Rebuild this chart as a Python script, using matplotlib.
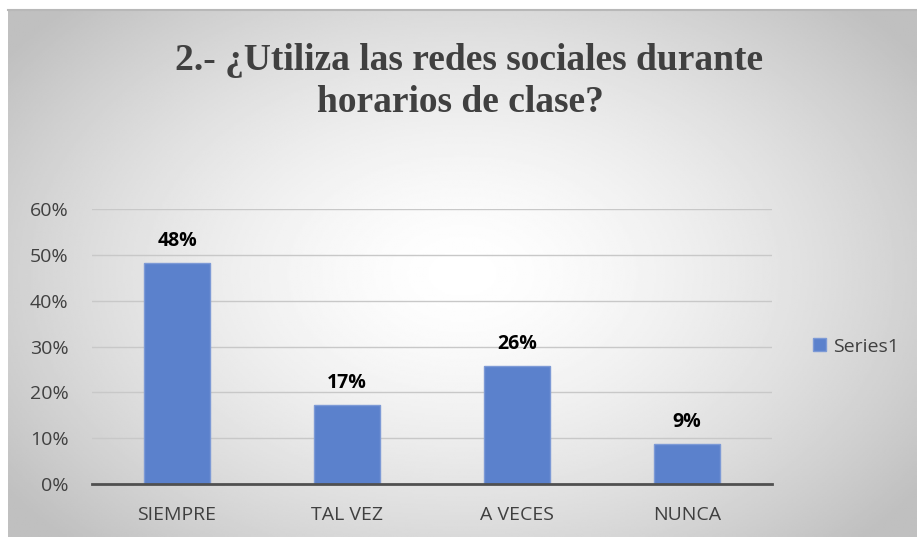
import numpy as np
import matplotlib.pyplot as plt

categories = ['SIEMPRE', 'TAL VEZ', 'A VECES', 'NUNCA']
values = [0.482, 0.172, 0.258, 0.087]
labels = ['48%', '17%', '26%', '9%']
ticks = [0, 0.1, 0.2, 0.3, 0.4, 0.5, 0.6]

fig = plt.figure(figsize=(9.17, 5.37), dpi=100)
fig.patch.set_facecolor('white')

# radial gradient background of the chart area
bg = fig.add_axes([8 / 917, 0, 1 - 8 / 917, 1 - 10 / 537])
yy, xx = np.mgrid[0:1:300j, 0:1:500j]
r = np.sqrt(((xx - 0.5) / 0.62) ** 2 + ((yy - 0.5) / 0.72) ** 2)
shade = 1 - 0.25 * np.clip(r, 0, 1) ** 1.5
bg.imshow(shade, cmap='gray', vmin=0, vmax=1, aspect='auto', extent=[0, 1, 0, 1])
bg.set_axis_off()
fig.add_artist(plt.Line2D([8 / 917, 1], [1 - 10 / 537, 1 - 10 / 537], color='#b8b8b8', linewidth=1.5))

ax = fig.add_axes([92 / 917, 1 - 484 / 537, (772 - 92) / 917, (484 - 209) / 537])
ax.set_facecolor('none')
x = np.arange(len(categories))
ax.bar(x, values, width=0.39, color='#5b81cc', edgecolor='#7d9ad6', linewidth=1, zorder=3,
       label='Series1')
for a, b, t in zip(x, values, labels):
    ax.text(a, b + 0.026, t, ha='center', va='bottom', fontsize=14, fontweight='bold',
            family='Open Sans', color='black')

ax.set_ylim(0, 0.6)
ax.set_xlim(-0.5, 3.5)
ax.set_yticks(ticks)
ax.set_yticklabels(['%d%%' % round(t * 100) for t in ticks], family='Open Sans', fontsize=14,
                   color='#404040')
ax.set_xticks(x)
ax.set_xticklabels(categories, family='Open Sans', fontsize=14, color='#404040')
ax.tick_params(axis='y', length=0, pad=17)
ax.tick_params(axis='x', length=0, pad=16)
ax.yaxis.grid(True, color='#c8c8c8', linewidth=1, zorder=0)
for s in ['top', 'right', 'left']:
    ax.spines[s].set_visible(False)
ax.spines['bottom'].set_color('#505050')
ax.spines['bottom'].set_linewidth(2)
ax.spines['bottom'].set_zorder(4)

leg = ax.legend(loc='center left', bbox_to_anchor=(1.035, 0.5), frameon=False,
                prop={'family': 'Open Sans', 'size': 14}, handlelength=0.65, handleheight=0.65,
                handletextpad=0.35, labelcolor='#404040')

fig.text(469 / 917, 1 - 60 / 537, '2.- ¿Utiliza las redes sociales durante', ha='center', va='center',
         family='Liberation Serif', fontweight='bold', fontsize=27, color='#404040')
fig.text(460 / 917, 1 - 102 / 537, 'horarios de clase?', ha='center', va='center',
         family='Liberation Serif', fontweight='bold', fontsize=27, color='#404040')

fig.savefig('out.png', dpi=100)
